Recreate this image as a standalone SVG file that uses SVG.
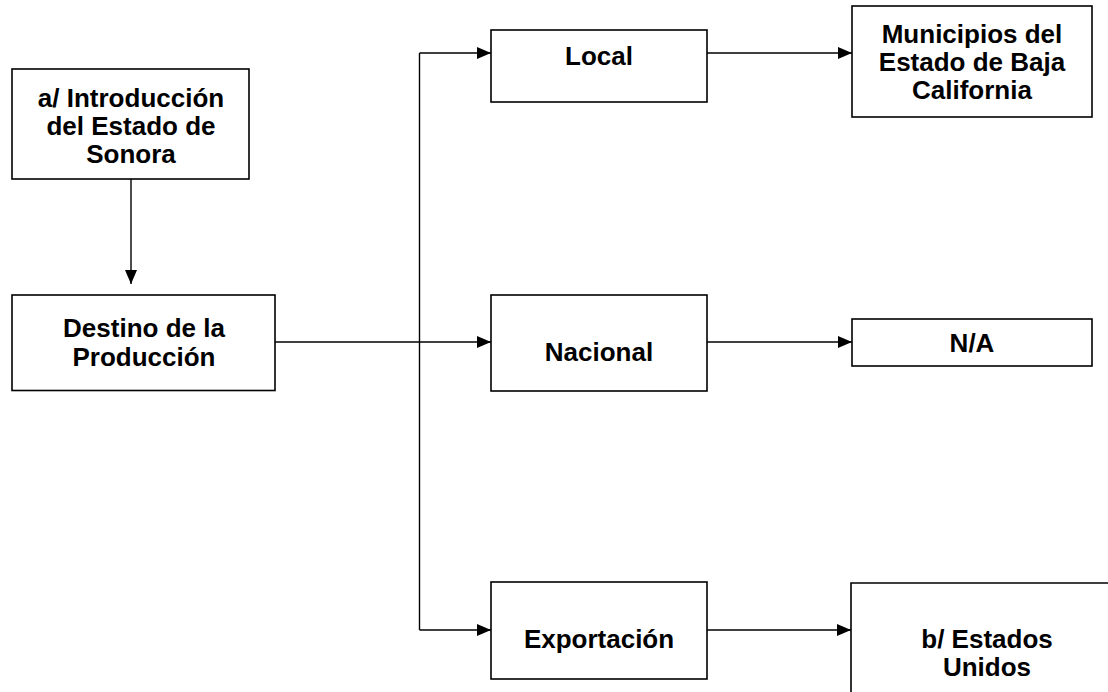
<svg xmlns="http://www.w3.org/2000/svg" width="1108" height="692" viewBox="0 0 1108 692">
<style>
.box{fill:#fff;stroke:#000;stroke-width:1.6}
.t{font-family:"Liberation Sans",Arial,sans-serif;font-weight:bold;font-size:26px;fill:#000;text-anchor:middle}
.c{fill:none;stroke:#000;stroke-width:1.4}
</style>
<defs>
<marker id="ah" markerWidth="14" markerHeight="12" refX="14" refY="6" orient="auto" markerUnits="userSpaceOnUse">
<path d="M0,0 L14,6 L0,12 Z" fill="#000"/>
</marker>
</defs>
<rect width="1108" height="692" fill="#fff"/>
<g id="connectors">
<path class="c" d="M131,179 V284" marker-end="url(#ah)"/>
<path class="c" d="M275,342 H491" marker-end="url(#ah)"/>
<path class="c" d="M419.5,53 V630"/>
<path class="c" d="M419.5,53 H491" marker-end="url(#ah)"/>
<path class="c" d="M419.5,630 H491" marker-end="url(#ah)"/>
<path class="c" d="M707,53 H852" marker-end="url(#ah)"/>
<path class="c" d="M707,342 H852" marker-end="url(#ah)"/>
<path class="c" d="M707,630 H851" marker-end="url(#ah)"/>
</g>
<g id="n-intro">
<rect class="box" x="12" y="69" width="237" height="110"/>
<text class="t" x="131" y="106.5">a/ Introducción</text>
<text class="t" x="131" y="135">del Estado de</text>
<text class="t" x="131" y="163.3">Sonora</text>
</g>
<g id="n-destino">
<rect class="box" x="12" y="295" width="263" height="95.5"/>
<text class="t" x="144" y="337.3">Destino de la</text>
<text class="t" x="144" y="365.7">Producción</text>
</g>
<g id="n-local">
<rect class="box" x="491" y="30" width="216" height="72"/>
<text class="t" x="599" y="65">Local</text>
</g>
<g id="n-nacional">
<rect class="box" x="491" y="295" width="216" height="96"/>
<text class="t" x="599" y="361">Nacional</text>
</g>
<g id="n-export">
<rect class="box" x="491" y="582" width="216" height="97"/>
<text class="t" x="599" y="648">Exportación</text>
</g>
<g id="n-municipios">
<rect class="box" x="852" y="6" width="240" height="111"/>
<text class="t" x="972" y="42.7">Municipios del</text>
<text class="t" x="972" y="71">Estado de Baja</text>
<text class="t" x="972" y="99.3">California</text>
</g>
<g id="n-na">
<rect class="box" x="852" y="319" width="240" height="47"/>
<text class="t" x="972" y="351.5">N/A</text>
</g>
<g id="n-eu">
<path class="box" d="M851,692 V583 H1108" fill="none"/>
<text class="t" x="987" y="648">b/ Estados</text>
<text class="t" x="987" y="676">Unidos</text>
</g>
</svg>
